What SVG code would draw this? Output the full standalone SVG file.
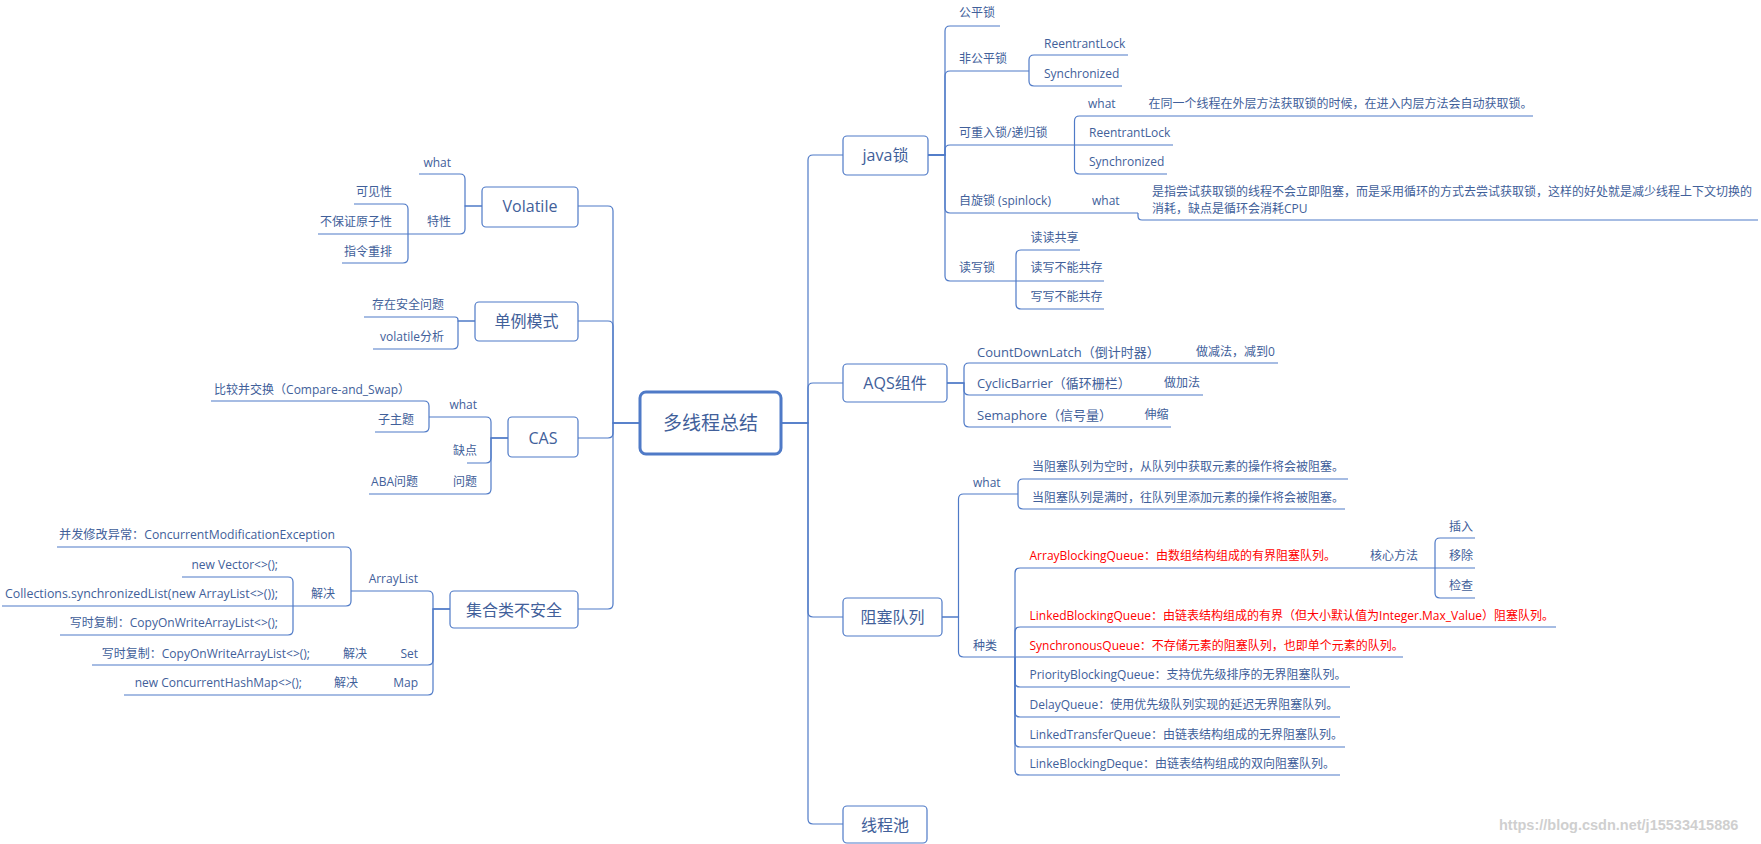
<svg xmlns="http://www.w3.org/2000/svg" width="1761" height="844" viewBox="0 0 1761 844">
<style>
.c{fill:none;stroke:#4F7AC7;stroke-width:1.2}
.b{fill:#fff;stroke:#4F7AC7;stroke-width:1.2}
.bm{fill:#fff;stroke:#4F7AC7;stroke-width:3}
text{font-family:"Open Sans","Noto Sans CJK SC",sans-serif;fill:#41609A}
.s{font-size:12px}
.m{font-size:13px}
.e{text-anchor:end}
.r{fill:#FF0000}
.bt{font-size:16px;text-anchor:middle;dominant-baseline:central}
.ct{font-size:19px;text-anchor:middle;dominant-baseline:central}
.wm{font-family:"Liberation Sans",sans-serif;font-size:14.5px;fill:#cfcfcf;font-weight:bold}
</style>
<rect width="1761" height="844" fill="#fff"/>
<g id="connectors">
<path class="c" d="M640 423H613V211Q613 206 608 206H578"/>
<path class="c" d="M640 423H613V326Q613 321 608 321H578"/>
<path class="c" d="M640 423H613V433Q613 438 608 438H578"/>
<path class="c" d="M640 423H613V604Q613 609 608 609H578"/>
<path class="c" d="M781 423H808V160Q808 155 813 155H843"/>
<path class="c" d="M781 423H808V388Q808 383 813 383H843"/>
<path class="c" d="M781 423H808V612Q808 617 813 617H843"/>
<path class="c" d="M781 423H808V819Q808 824 813 824H843"/>
<path class="c" d="M482 206H465V179Q465 174 460 174H419"/>
<path class="c" d="M482 206H465V229Q465 234 460 234H408"/>
<path class="c" d="M408 234V209Q408 204 403 204H354"/>
<path class="c" d="M408 234H318"/>
<path class="c" d="M408 234V258Q408 263 403 263H342"/>
<path class="c" d="M475 321H458V320Q458 317 455 317H364"/>
<path class="c" d="M475 321H458V344Q458 349 453 349H373"/>
<path class="c" d="M508 438H491V422Q491 417 486 417H429"/>
<path class="c" d="M429 417V406Q429 401 424 401H211"/>
<path class="c" d="M429 417V427Q429 432 424 432H375"/>
<path class="c" d="M508 438H491V458Q491 463 486 463H467"/>
<path class="c" d="M508 438H491V489Q491 494 486 494H369"/>
<path class="c" d="M450 609H433V596Q433 591 428 591H351"/>
<path class="c" d="M351 591V552Q351 547 346 547H57"/>
<path class="c" d="M351 591V601Q351 606 346 606H293"/>
<path class="c" d="M293 606V582Q293 577 288 577H182"/>
<path class="c" d="M293 606H2"/>
<path class="c" d="M293 606V630Q293 635 288 635H60"/>
<path class="c" d="M450 609H433V660Q433 665 428 665H92"/>
<path class="c" d="M450 609H433V690Q433 695 428 695H124"/>
<path class="c" d="M928 155H945V31Q945 26 950 26H1000"/>
<path class="c" d="M928 155H945V76Q945 71 950 71H1029"/>
<path class="c" d="M1029 71V60Q1029 55 1034 55H1128"/>
<path class="c" d="M1029 71V81Q1029 86 1034 86H1122"/>
<path class="c" d="M928 155H945V150Q945 145 950 145H1074.5"/>
<path class="c" d="M1074.5 145V121Q1074.5 116 1079.5 116H1533"/>
<path class="c" d="M1074.5 145H1173"/>
<path class="c" d="M1074.5 145V169Q1074.5 174 1079.5 174H1167"/>
<path class="c" d="M928 155H945V208Q945 213 950 213H1138"/>
<path class="c" d="M1138 213V216Q1138 220 1142 220H1758"/>
<path class="c" d="M928 155H945V276Q945 281 950 281H1016"/>
<path class="c" d="M1016 281V255Q1016 250 1021 250H1080"/>
<path class="c" d="M1016 281H1104"/>
<path class="c" d="M1016 281V304Q1016 309 1021 309H1104"/>
<path class="c" d="M947 383H964V368Q964 363 969 363H1278"/>
<path class="c" d="M947 383H964V390Q964 395 969 395H1203"/>
<path class="c" d="M947 383H964V422Q964 427 969 427H1171"/>
<path class="c" d="M942 617H958.5V499Q958.5 494 963.5 494H1018"/>
<path class="c" d="M1018 494V484Q1018 479 1023 479H1348"/>
<path class="c" d="M1018 494V504Q1018 509 1023 509H1345"/>
<path class="c" d="M942 617H958.5V652Q958.5 657 963.5 657H1015"/>
<path class="c" d="M1015 657V573Q1015 568 1020 568H1435"/>
<path class="c" d="M1435 568V543Q1435 538 1440 538H1475"/>
<path class="c" d="M1435 568H1475"/>
<path class="c" d="M1435 568V593Q1435 598 1440 598H1475"/>
<path class="c" d="M1015 657V632Q1015 627 1020 627H1556"/>
<path class="c" d="M1015 657H1403"/>
<path class="c" d="M1015 657V682Q1015 687 1020 687H1350"/>
<path class="c" d="M1015 657V712Q1015 717 1020 717H1340"/>
<path class="c" d="M1015 657V742Q1015 747 1020 747H1345"/>
<path class="c" d="M1015 657V770Q1015 775 1020 775H1340"/>
</g>
<g id="center">
<rect class="bm" x="640" y="392" width="141" height="62" rx="6"/>
<text class="ct" x="710.5" y="423">多线程总结</text>
</g>
<g id="volatile">
<rect class="b" x="482" y="187" width="96" height="40" rx="4"/>
<text class="bt" x="530" y="206">Volatile</text>
<text class="s e" x="451" y="167">what</text>
<text class="s e" x="451" y="226">特性</text>
<text class="s e" x="392" y="196">可见性</text>
<text class="s e" x="392" y="226">不保证原子性</text>
<text class="s e" x="392" y="256">指令重排</text>
</g>
<g id="singleton">
<rect class="b" x="475" y="302" width="103" height="39" rx="4"/>
<text class="bt" x="526.5" y="321">单例模式</text>
<text class="s e" x="444" y="309">存在安全问题</text>
<text class="s e" x="444" y="341">volatile分析</text>
</g>
<g id="cas">
<rect class="b" x="508" y="417" width="70" height="40" rx="4"/>
<text class="bt" x="543" y="438">CAS</text>
<text class="s e" x="477" y="409">what</text>
<text class="s e" x="410" y="394">比较并交换（Compare-and_Swap）</text>
<text class="s e" x="414" y="424">子主题</text>
<text class="s e" x="477" y="455">缺点</text>
<text class="s e" x="477" y="486">问题</text>
<text class="s e" x="418" y="486">ABA问题</text>
</g>
<g id="collections">
<rect class="b" x="450" y="591" width="128" height="37" rx="4"/>
<text class="bt" x="514" y="609.5">集合类不安全</text>
<text class="s e" x="418" y="583">ArrayList</text>
<text class="s e" x="335" y="539" textLength="276" lengthAdjust="spacingAndGlyphs">并发修改异常：ConcurrentModificationException</text>
<text class="s e" x="335" y="598">解决</text>
<text class="s e" x="278" y="569">new Vector&lt;&gt;();</text>
<text class="s e" x="278" y="598" textLength="273" lengthAdjust="spacingAndGlyphs">Collections.synchronizedList(new ArrayList&lt;&gt;());</text>
<text class="s e" x="278" y="627">写时复制：CopyOnWriteArrayList&lt;&gt;();</text>
<text class="s e" x="418" y="658">Set</text>
<text class="s e" x="367" y="658">解决</text>
<text class="s e" x="310" y="658">写时复制：CopyOnWriteArrayList&lt;&gt;();</text>
<text class="s e" x="418" y="687">Map</text>
<text class="s e" x="358" y="687">解决</text>
<text class="s e" x="302" y="687">new ConcurrentHashMap&lt;&gt;();</text>
</g>
<g id="javalock">
<rect class="b" x="843" y="136" width="85" height="39" rx="4"/>
<text class="bt" x="885.5" y="155">java锁</text>
<text class="s" x="959" y="17">公平锁</text>
<text class="s" x="959" y="63">非公平锁</text>
<text class="s" x="1044" y="48">ReentrantLock</text>
<text class="s" x="1044" y="78">Synchronized</text>
<text class="s" x="959" y="137">可重入锁/递归锁</text>
<text class="s" x="1088" y="108">what</text>
<text class="s" x="1148.5" y="108">在同一个线程在外层方法获取锁的时候，在进入内层方法会自动获取锁。</text>
<text class="s" x="1089" y="137">ReentrantLock</text>
<text class="s" x="1089" y="166">Synchronized</text>
<text class="s" x="959" y="205">自旋锁 (spinlock)</text>
<text class="s" x="1092" y="205">what</text>
<text class="s" x="1152" y="196">是指尝试获取锁的线程不会立即阻塞，而是采用循环的方式去尝试获取锁，这样的好处就是减少线程上下文切换的</text>
<text class="s" x="1152" y="213">消耗，缺点是循环会消耗CPU</text>
<text class="s" x="959" y="272">读写锁</text>
<text class="s" x="1030.5" y="242">读读共享</text>
<text class="s" x="1030.5" y="272">读写不能共存</text>
<text class="s" x="1030.5" y="301">写写不能共存</text>
</g>
<g id="aqs">
<rect class="b" x="843" y="364" width="104" height="38" rx="4"/>
<text class="bt" x="895" y="383">AQS组件</text>
<text class="m" x="977" y="357">CountDownLatch（倒计时器）</text>
<text class="s" x="1196" y="356">做减法，减到0</text>
<text class="m" x="977" y="388">CyclicBarrier（循环栅栏）</text>
<text class="s" x="1164" y="387">做加法</text>
<text class="m" x="977" y="420">Semaphore（信号量）</text>
<text class="s" x="1144.5" y="419">伸缩</text>
</g>
<g id="blockingqueue">
<rect class="b" x="843" y="598" width="99" height="38" rx="4"/>
<text class="bt" x="892.5" y="617">阻塞队列</text>
<text class="s" x="973" y="487">what</text>
<text class="s" x="1032" y="471">当阻塞队列为空时，从队列中获取元素的操作将会被阻塞。</text>
<text class="s" x="1032" y="502">当阻塞队列是满时，往队列里添加元素的操作将会被阻塞。</text>
<text class="s" x="973" y="650">种类</text>
<text class="s r" x="1029.5" y="560">ArrayBlockingQueue：由数组结构组成的有界阻塞队列。</text>
<text class="s" x="1370" y="560">核心方法</text>
<text class="s" x="1449" y="531">插入</text>
<text class="s" x="1449" y="560">移除</text>
<text class="s" x="1449" y="590">检查</text>
<text class="s r" x="1029.5" y="620">LinkedBlockingQueue：由链表结构组成的有界（但大小默认值为Integer.Max_Value）阻塞队列。</text>
<text class="s r" x="1029.5" y="650">SynchronousQueue：不存储元素的阻塞队列，也即单个元素的队列。</text>
<text class="s" x="1029.5" y="679">PriorityBlockingQueue：支持优先级排序的无界阻塞队列。</text>
<text class="s" x="1029.5" y="709">DelayQueue：使用优先级队列实现的延迟无界阻塞队列。</text>
<text class="s" x="1029.5" y="739">LinkedTransferQueue：由链表结构组成的无界阻塞队列。</text>
<text class="s" x="1029.5" y="768">LinkeBlockingDeque：由链表结构组成的双向阻塞队列。</text>
</g>
<g id="threadpool">
<rect class="b" x="843" y="806" width="84" height="37" rx="4"/>
<text class="bt" x="885" y="824.5">线程池</text>
</g>
<text class="wm" x="1499" y="830">https://blog.csdn.net/j15533415886</text>
</svg>
